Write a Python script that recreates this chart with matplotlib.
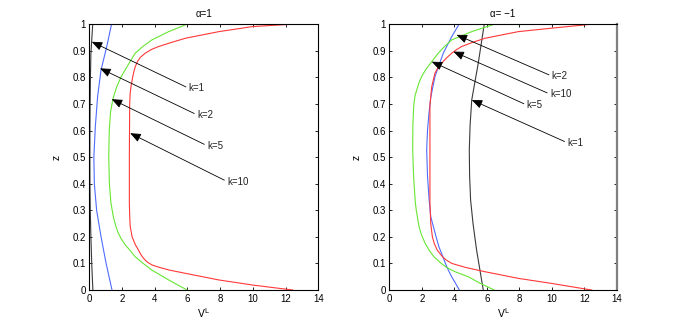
import matplotlib.pyplot as plt

plt.rcParams['font.family'] = ['Liberation Sans', 'DejaVu Sans']
plt.rcParams['font.size'] = 7

# alpha = 1 : curve values (z, V^L)
z_k1_a = [0, 0.1, 0.2, 0.3, 0.4, 0.5, 0.6, 0.7, 0.8, 0.89, 1.0]
v_k1_a = [0.22, 0.15, 0.1, 0.06, 0.04, 0.035, 0.04, 0.05, 0.07, 0.1, 0.21]

z_k2_a = [0, 0.1, 0.2, 0.3, 0.4, 0.5, 0.615, 0.728, 0.828, 0.916, 1.0]
v_k2_a = [1.39, 1.03, 0.72, 0.45, 0.31, 0.28, 0.37, 0.51, 0.72, 1.07, 1.36]

z_k5_a = [0, 0.038, 0.075, 0.1, 0.125, 0.15, 0.17, 0.19, 0.213, 0.245, 0.276,
          0.33, 0.4, 0.5, 0.6, 0.67, 0.72, 0.765, 0.8, 0.828, 0.86, 0.891,
          0.915, 0.941, 0.972, 1.0]
v_k5_a = [5.98, 4.85, 3.83, 3.3, 2.81, 2.48, 2.2, 1.98, 1.78, 1.6, 1.47,
          1.32, 1.23, 1.19, 1.22, 1.3, 1.45, 1.68, 1.93, 2.19, 2.5, 2.81,
          3.25, 3.83, 4.85, 5.98]

z_k10_a = [0, 0.019, 0.038, 0.063, 0.075, 0.085, 0.094, 0.105, 0.115, 0.125,
           0.135, 0.15, 0.17, 0.2, 0.24, 0.28, 0.33, 0.5, 0.7, 0.74, 0.765,
           0.8, 0.82, 0.84, 0.86, 0.875, 0.891, 0.905, 0.916, 0.93, 0.947,
           0.972, 0.991, 1.0]
v_k10_a = [12.45, 9.97, 7.92, 5.87, 4.9, 4.3, 3.85, 3.55, 3.38, 3.25,
           3.14, 3.01, 2.82, 2.62, 2.5, 2.47, 2.45, 2.45, 2.47, 2.5, 2.55,
           2.65, 2.72, 2.81, 2.95, 3.12, 3.42, 3.8, 4.24, 4.95, 5.87,
           7.92, 9.97, 12.4]

# alpha = -1
z_k1_b = [0, 0.15, 0.25, 0.339, 0.43, 0.527, 0.62, 0.715, 0.853, 1.0]
v_k1_b = [5.78, 5.37, 5.15, 5.0, 4.94, 4.92, 4.97, 5.07, 5.47, 5.84]

z_k2_b = [0, 0.05, 0.075, 0.1, 0.125, 0.163, 0.2, 0.276, 0.339, 0.43, 0.527,
          0.6, 0.665, 0.728, 0.803, 0.891, 0.953, 1.0]
v_k2_b = [4.31, 3.84, 3.63, 3.45, 3.3, 3.05, 2.88, 2.55, 2.45, 2.35, 2.3,
          2.35, 2.44, 2.56, 2.81, 3.32, 3.84, 4.29]

z_k5_b = [0, 0.025, 0.05, 0.07, 0.085, 0.1, 0.125, 0.15, 0.176, 0.21, 0.238,
          0.3, 0.33, 0.42, 0.527, 0.62, 0.69, 0.73, 0.753, 0.78, 0.803, 0.83,
          0.859, 0.891, 0.915, 0.941, 0.972, 1.0]
v_k5_b = [6.46, 5.6, 4.86, 4.0, 3.53, 3.2, 2.75, 2.45, 2.2, 1.97, 1.83,
          1.66, 1.6, 1.5, 1.44, 1.45, 1.5, 1.58, 1.69, 1.83, 1.99, 2.25,
          2.61, 3.01, 3.38, 3.84, 5.07, 6.46]

z_k10_b = [0, 0.025, 0.044, 0.069, 0.085, 0.1, 0.113, 0.125, 0.15, 0.175, 0.2,
           0.25, 0.33, 0.464, 0.696, 0.765, 0.816, 0.835, 0.853, 0.872, 0.891,
           0.905, 0.916, 0.93, 0.947, 0.972, 0.985, 1.0]
v_k10_b = [12.45, 9.98, 7.93, 5.88, 4.7, 3.85, 3.5, 3.28, 2.95, 2.77, 2.65,
           2.55, 2.5, 2.5, 2.5, 2.61, 2.81, 2.98, 3.22, 3.5, 3.84, 4.15,
           4.45, 5.05, 5.88, 7.93, 9.98, 12.45]

# annotations: label, arrow tip (V, z), text start (V, z)
labels_a = ['k=1', 'k=2', 'k=5', 'k=10']
tips_a = [(0.15, 0.934), (0.66, 0.834), (1.37, 0.718), (2.5, 0.59)]
texts_a = [(6.08, 0.759), (6.59, 0.659), (7.2, 0.543), (8.43, 0.408)]

labels_b = ['k=2', 'k=10', 'k=5', 'k=1']
tips_b = [(4.14, 0.96), (3.94, 0.897), (2.61, 0.859), (5.07, 0.715)]
texts_b = [(9.99, 0.805), (9.88, 0.737), (8.45, 0.696), (10.95, 0.554)]

xticks = [0, 2, 4, 6, 8, 10, 12, 14]
yticks = [0, 0.1, 0.2, 0.3, 0.4, 0.5, 0.6, 0.7, 0.8, 0.9, 1.0]
ytick_labels = ['0', '0.1', '0.2', '0.3', '0.4', '0.5', '0.6', '0.7', '0.8', '0.9', '1']

c_k = '#3a3a3a'
c_b = '#4f6cff'
c_g = '#66e633'
c_r = '#ff3838'

fig = plt.figure(figsize=(6.82, 3.27), dpi=100)
ax1 = fig.add_axes([0.1309, 0.113, 0.3358, 0.813])
ax2 = fig.add_axes([0.5708, 0.113, 0.3338, 0.813])


def setup(ax, title):
    ax.set_xlim(0, 14)
    ax.set_ylim(0, 1)
    ax.set_xticks(xticks)
    ax.set_yticks(yticks)
    ax.set_yticklabels(ytick_labels)
    ax.tick_params(direction='in', length=2.5, width=0.6, top=True, right=True,
                   labelsize=7, pad=2.5)
    for s in ax.spines.values():
        s.set_linewidth(0.8)
    ax.set_title(title, fontsize=7, pad=5)
    ax.set_xlabel(r'$\mathregular{V^{L}}$', fontsize=7.5, labelpad=2)
    ax.set_ylabel('z', fontsize=7.5, labelpad=8)


def arrows(ax, labels, tips, texts):
    for lab, tip, txt in zip(labels, tips, texts):
        ax.annotate(lab, xy=tip, xytext=txt, ha='left', va='center',
                    fontsize=7, color='#222222',
                    arrowprops=dict(arrowstyle='-|>,head_length=0.8,head_width=0.33',
                                    mutation_scale=8, color='black', lw=0.6,
                                    relpos=(0, 0.5), shrinkA=0, shrinkB=0))


lw = 0.8
ax1.plot(v_k1_a, z_k1_a, color=c_k, lw=lw)
ax1.plot(v_k2_a, z_k2_a, color=c_b, lw=lw)
ax1.plot(v_k5_a, z_k5_a, color=c_g, lw=lw)
ax1.plot(v_k10_a, z_k10_a, color=c_r, lw=lw)
setup(ax1, 'α=1')
arrows(ax1, labels_a, tips_a, texts_a)

ax2.plot(v_k1_b, z_k1_b, color=c_k, lw=lw)
ax2.plot(v_k2_b, z_k2_b, color=c_b, lw=lw)
ax2.plot(v_k5_b, z_k5_b, color=c_g, lw=lw)
ax2.plot(v_k10_b, z_k10_b, color=c_r, lw=lw)
setup(ax2, 'α= \u22121')
ax2.spines['right'].set_color('#808080')
ax2.spines['right'].set_linewidth(1.6)
arrows(ax2, labels_b, tips_b, texts_b)

fig.savefig('out.png', dpi=100)
